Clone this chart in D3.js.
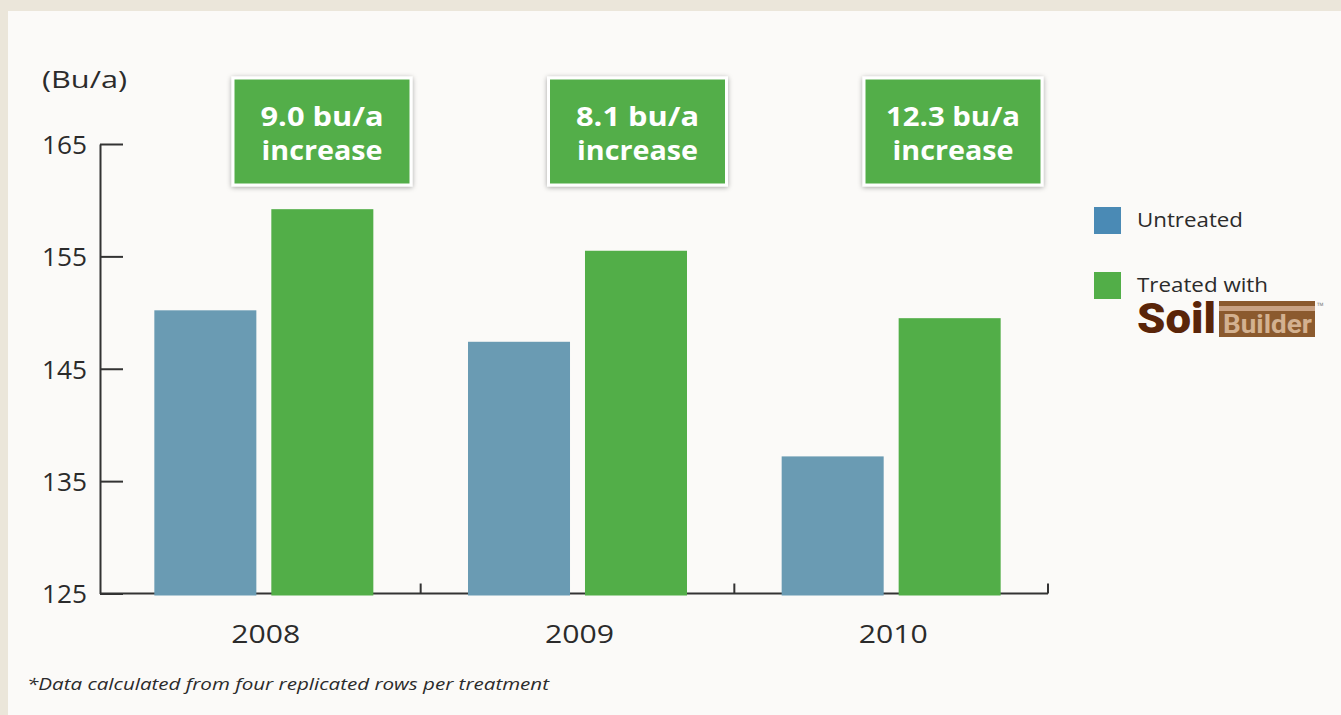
<!DOCTYPE html>
<html>
<head>
<meta charset="utf-8">
<script src="https://cdn.jsdelivr.net/npm/d3@7"></script>
<style>
  html, body { margin: 0; padding: 0; background: #ebe6da; }
  svg { display: block; }
</style>
</head>
<body>
<svg id="chart" width="1341" height="715"></svg>
<script>
// Yield per year, bushels per acre
const years = ["2008", "2009", "2010"];
const untreated = [150.2, 147.4, 137.2];
const treated = [159.2, 155.5, 149.5];
const increaseLabels = ["9.0 bu/a", "8.1 bu/a", "12.3 bu/a"];
const yTicks = [125, 135, 145, 155, 165];
const seriesNames = ["Untreated", "Treated with"];
const unitLabel = "(Bu/a)";
const footnote = "*Data calculated from four replicated rows per treatment";

const svg = d3.select("#chart");
const W = 1341, H = 715;

// paper panel
svg.append("rect").attr("width", W).attr("height", H).attr("fill", "#ebe6da");
svg.append("rect").attr("x", 8).attr("y", 11).attr("width", W - 8).attr("height", H - 11).attr("fill", "#fbfaf8");

const defs = svg.append("defs");
const shadow = defs.append("filter").attr("id", "boxShadow")
  .attr("x", "-10%").attr("y", "-10%").attr("width", "120%").attr("height", "125%");
shadow.append("feDropShadow").attr("dx", 0).attr("dy", 1).attr("stdDeviation", 2.5)
  .attr("flood-color", "#000").attr("flood-opacity", 0.35);

const FONT = "'Open Sans', 'DejaVu Sans', sans-serif";
const textColor = "#2b2b2b";
const blueBar = "#6a9bb3", greenBar = "#52ae48", blueKey = "#4a8ab5";

const axisLeftX = 100;
const y = d3.scaleLinear().domain([125, 165]).range([593.5, 144]);
const x = d3.scaleBand().domain(years).range([107, 1048]);
const inner = d3.scaleBand().domain([0, 1]).paddingInner(0.128);
// callout boxes sit over the treated side of each year
const calloutX = d3.scalePoint().domain(years).range([322, 953]);

function stretch(sel, w) {
  sel.attr("textLength", w).attr("lengthAdjust", "spacingAndGlyphs");
}

// unit label
svg.append("text").attr("x", 42).attr("y", 88).text(unitLabel)
  .attr("font-family", FONT).attr("font-size", 24).attr("fill", textColor)
  .call(stretch, 85);

// y axis with ticks pointing right
const yAxis = svg.append("g").attr("transform", `translate(${axisLeftX},0)`)
  .call(d3.axisLeft(y).tickValues(yTicks).tickSize(-23).tickSizeOuter(0).tickPadding(13).tickFormat(d3.format("d")));
yAxis.select(".domain").attr("stroke", "#333").attr("stroke-width", 2);
yAxis.selectAll(".tick line").attr("stroke", "#333").attr("stroke-width", 2);
yAxis.selectAll(".tick text").attr("font-family", FONT).attr("font-size", 26)
  .attr("fill", textColor).attr("dy", "0.36em").call(stretch, 45);

// x baseline with boundary ticks
const baseY = y(125);
const xAxis = svg.append("g");
xAxis.append("line").attr("x1", axisLeftX).attr("x2", x.range()[1])
  .attr("y1", baseY).attr("y2", baseY).attr("stroke", "#333").attr("stroke-width", 2);
xAxis.selectAll("line.tick").data(years).join("line").attr("class", "tick")
  .attr("x1", d => x(d) + x.bandwidth()).attr("x2", d => x(d) + x.bandwidth())
  .attr("y1", baseY).attr("y2", baseY - 10).attr("stroke", "#333").attr("stroke-width", 2);
xAxis.selectAll("text").data(years).join("text")
  .attr("x", d => x(d) + x.bandwidth() / 2 + 2).attr("y", 643)
  .attr("text-anchor", "middle").text(d => d)
  .attr("font-family", FONT).attr("font-size", 25).attr("fill", textColor)
  .each(function () { d3.select(this).call(stretch, 69); });

// bars, drawn over the baseline
const groups = svg.append("g").selectAll("g").data(years).join("g");
groups.each(function (yr, i) {
  const c = x(yr) + x.bandwidth() / 2;
  inner.range([c - 109.5, c + 109.5]);
  const vals = [untreated[i], treated[i]];
  d3.select(this).selectAll("rect").data(vals).join("rect")
    .attr("x", (d, k) => inner(k))
    .attr("width", inner.bandwidth())
    .attr("y", d => y(d))
    .attr("height", d => baseY + 2 - y(d))
    .attr("fill", (d, k) => k === 0 ? blueBar : greenBar);
});

// increase callouts
const callouts = svg.append("g").selectAll("g").data(years).join("g")
  .attr("transform", d => `translate(${calloutX(d)},78)`);
callouts.append("rect").attr("x", -89).attr("y", 0).attr("width", 178).attr("height", 107)
  .attr("fill", greenBar).attr("stroke", "#fff").attr("stroke-width", 3)
  .attr("filter", "url(#boxShadow)");
callouts.append("text").attr("y", 48).attr("text-anchor", "middle")
  .text((d, i) => increaseLabels[i])
  .attr("font-family", FONT).attr("font-weight", 700).attr("font-size", 27).attr("fill", "#fff")
  .each(function (d, i) { d3.select(this).call(stretch, i === 2 ? 134 : 123); });
callouts.append("text").attr("y", 82).attr("text-anchor", "middle").text("increase")
  .attr("font-family", FONT).attr("font-weight", 700).attr("font-size", 27).attr("fill", "#fff")
  .each(function () { d3.select(this).call(stretch, 121); });

// legend
const legend = svg.append("g").attr("transform", "translate(1094,207)");
const keys = legend.selectAll("g").data(seriesNames).join("g")
  .attr("transform", (d, i) => `translate(0,${i * 65})`);
keys.append("rect").attr("width", 27).attr("height", 27)
  .attr("fill", (d, i) => i === 0 ? blueKey : greenBar);
keys.append("text").attr("x", 43).attr("y", 20).text(d => d)
  .attr("font-family", FONT).attr("font-size", 20).attr("fill", textColor)
  .each(function (d, i) { d3.select(this).call(stretch, i === 0 ? 106 : 131); });

// Soil Builder wordmark
const logo = svg.append("g").attr("transform", "translate(1137,300)");
logo.append("text").attr("x", 0).attr("y", 33).text("Soil")
  .attr("font-family", "'Roboto', 'DejaVu Sans', sans-serif").attr("font-weight", 900)
  .attr("font-size", 42).attr("fill", "#5a2509").call(stretch, 79);
logo.append("rect").attr("x", 82).attr("y", 1).attr("width", 96).attr("height", 36).attr("fill", "#8b5a2e");
logo.append("rect").attr("x", 82).attr("y", 6).attr("width", 96).attr("height", 5).attr("fill", "#c9a283");
logo.append("text").attr("x", 86).attr("y", 33).text("Builder")
  .attr("font-family", "'Roboto', 'DejaVu Sans', sans-serif").attr("font-weight", 700)
  .attr("font-size", 26).attr("fill", "#d3b190").call(stretch, 89);
logo.append("text").attr("x", 180).attr("y", 9).text("™")
  .attr("font-family", FONT).attr("font-size", 9).attr("fill", "#8a8a8a");

// footnote
svg.append("text").attr("x", 27).attr("y", 690).text(footnote)
  .attr("font-family", FONT).attr("font-style", "italic").attr("font-size", 17).attr("fill", textColor)
  .call(stretch, 522);
</script>
</body>
</html>
